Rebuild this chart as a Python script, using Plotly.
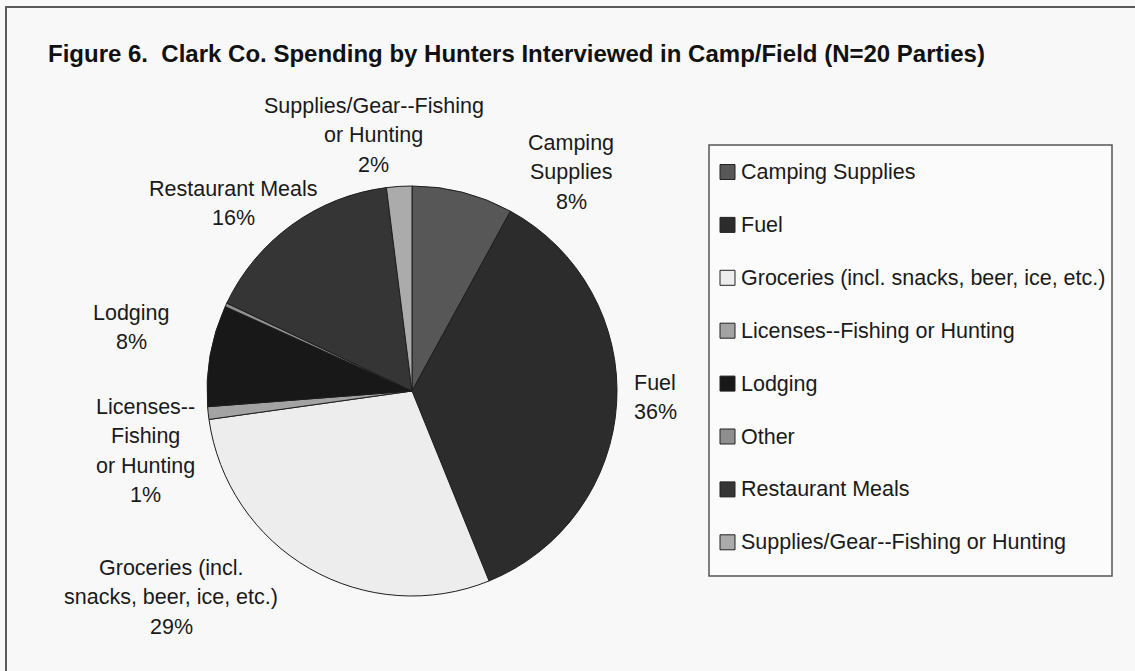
import plotly.graph_objects as go

W, H = 1135, 671

# ---- data -------------------------------------------------------------
categories = [
    "Camping Supplies",
    "Fuel",
    "Groceries (incl. snacks, beer, ice, etc.)",
    "Licenses--Fishing or Hunting",
    "Lodging",
    "Other",
    "Restaurant Meals",
    "Supplies/Gear--Fishing or Hunting",
]
shares = [8, 36, 29, 1, 8, 0.3, 16, 2]  # percent of party spending

# wrapped slice-label text (percent line is appended from shares)
label_lines = [
    ["Camping", "Supplies"],
    ["Fuel"],
    ["Groceries (incl.", "snacks, beer, ice, etc.)"],
    ["Licenses--", "Fishing", "or Hunting"],
    ["Lodging"],
    None,
    ["Restaurant Meals"],
    ["Supplies/Gear--Fishing", "or Hunting"],
]

# ---- styling ----------------------------------------------------------
fills = ["#575757", "#2c2c2c", "#ededed", "#a3a3a3",
         "#181818", "#8f8f8f", "#353535", "#ababab"]
# first-line centre of each slice label, in pixels (x, y)
label_anchor = [(571, 143), (655, 383), (171, 568), (145, 407),
                (131, 313), None, (234, 189), (374, 106)]
LINE_STEP = 29.3
FONT = "Liberation Sans, Arial, Helvetica, sans-serif"
TXT = "#1a1a1a"
LABEL_SIZE = 21.5

def px(x):
    return x / W

def py(y):
    return 1 - y / H

# pie circle: centre (412, 391), radius 205
cx, cy, r = 412, 391, 205

fig = go.Figure()
fig.add_trace(go.Pie(
    labels=categories,
    values=shares,
    sort=False,
    direction="clockwise",
    rotation=0,
    textinfo="none",
    showlegend=False,
    hoverinfo="label+percent",
    marker=dict(colors=fills, line=dict(color="#1e1e1e", width=1)),
    domain=dict(x=[px(cx - r), px(cx + r)], y=[py(cy + r), py(cy - r)]),
))

annotations = []

# title
annotations.append(dict(
    x=px(46), y=py(53), xref="paper", yref="paper",
    xanchor="left", yanchor="middle", showarrow=False,
    text="<b>Figure 6.  Clark Co. Spending by Hunters Interviewed in Camp/Field (N=20 Parties)</b>",
    font=dict(family=FONT, size=24, color="#111111"),
))

# slice labels, one annotation per text line
for lines, val, anchor in zip(label_lines, shares, label_anchor):
    if lines is None:
        continue
    all_lines = lines + [f"{round(val)}%"]
    ax, ay = anchor
    for i, t in enumerate(all_lines):
        annotations.append(dict(
            x=px(ax), y=py(ay + i * LINE_STEP), xref="paper", yref="paper",
            xanchor="center", yanchor="middle", showarrow=False,
            text=t, font=dict(family=FONT, size=LABEL_SIZE, color=TXT),
        ))

shapes = []

# outer frame
shapes.append(dict(type="rect", xref="paper", yref="paper",
                   x0=px(6), y0=py(H + 20), x1=px(W + 20), y1=py(7),
                   line=dict(color="#5a5a5a", width=2), fillcolor="rgba(0,0,0,0)",
                   layer="below"))

# legend box
LX0, LY0, LX1, LY1 = 709, 145, 1112, 576
shapes.append(dict(type="rect", xref="paper", yref="paper",
                   x0=px(LX0), y0=py(LY1), x1=px(LX1), y1=py(LY0),
                   line=dict(color="#555555", width=1.5), fillcolor="#fbfbfb",
                   layer="below"))

LEG_FIRST, LEG_STEP, SW = 172, 52.9, 15
for i, (name, col) in enumerate(zip(categories, fills)):
    yc = LEG_FIRST + i * LEG_STEP
    shapes.append(dict(type="rect", xref="paper", yref="paper",
                       x0=px(720), x1=px(720 + SW),
                       y0=py(yc + SW / 2), y1=py(yc - SW / 2),
                       line=dict(color="#222222", width=1), fillcolor=col))
    annotations.append(dict(
        x=px(739), y=py(yc), xref="paper", yref="paper",
        xanchor="left", yanchor="middle", showarrow=False,
        text=name, font=dict(family=FONT, size=LABEL_SIZE, color=TXT),
    ))

fig.update_layout(
    width=W, height=H,
    margin=dict(l=0, r=0, t=0, b=0),
    paper_bgcolor="#f8f8f8",
    plot_bgcolor="#f8f8f8",
    showlegend=False,
    annotations=annotations,
    shapes=shapes,
)

fig.write_html("out.html", config={"displayModeBar": False})
